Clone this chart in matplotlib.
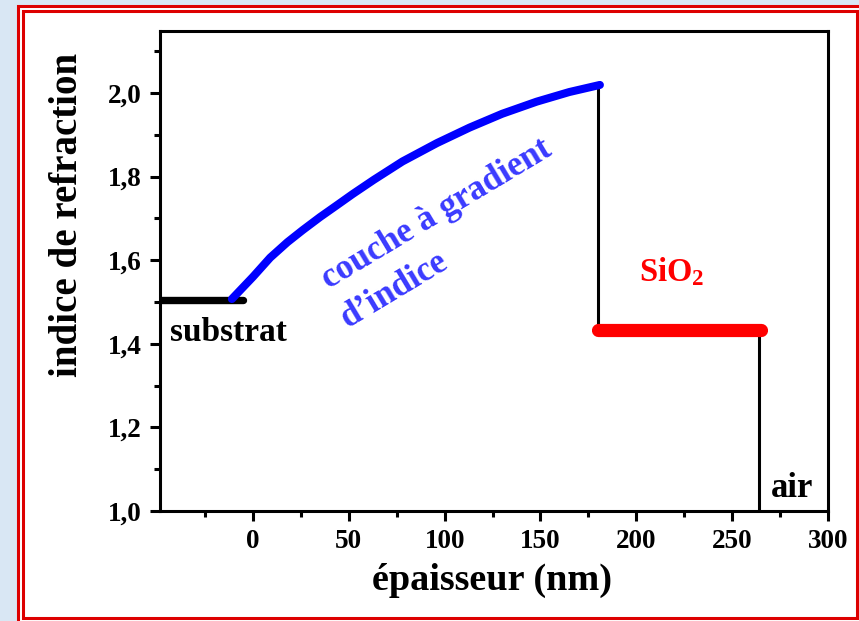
import matplotlib
matplotlib.use("Agg")
import matplotlib.pyplot as plt
from matplotlib.patches import Rectangle
from matplotlib.ticker import MultipleLocator, FuncFormatter

plt.rcParams['font.family'] = ['Liberation Serif', 'DejaVu Serif']
plt.rcParams['font.weight'] = 'bold'
plt.rcParams['mathtext.fontset'] = 'custom'
plt.rcParams['mathtext.rm'] = 'Liberation Serif:bold'
plt.rcParams['mathtext.bf'] = 'Liberation Serif:bold'

# ---- data ----
substrat_x = [-48.5, -5]
substrat_y = [1.505, 1.505]

gradient_x = [-11, 0, 9, 18, 26, 35, 44, 52, 63, 78, 96, 113, 130, 148, 165, 181]
gradient_y = [1.507, 1.56, 1.606, 1.643, 1.672, 1.703, 1.732, 1.758, 1.792, 1.836, 1.880,
              1.917, 1.950, 1.979, 2.002, 2.019]

step1_x = [180, 180]
step1_y = [2.015, 1.432]

sio2_x = [180, 265]
sio2_y = [1.433, 1.433]

step2_x = [264, 264]
step2_y = [1.426, 1.0]

xticks = [0, 50, 100, 150, 200, 250, 300]
yticks = [1.0, 1.2, 1.4, 1.6, 1.8, 2.0]

W, H = 859, 621
fig = plt.figure(figsize=(W / 100, H / 100), dpi=100)
fig.patch.set_facecolor('#d9e7f4')

def px_rect(x0, y0, x1, y1, **kw):
    return Rectangle((x0 / W, 1 - y1 / H), (x1 - x0) / W, (y1 - y0) / H,
                     transform=fig.transFigure, figure=fig, zorder=-10, **kw)

fig.patches.append(px_rect(18, 6, 880, 640, facecolor='white', edgecolor='#dd0000', linewidth=2.2))
fig.patches.append(px_rect(23, 11, 857, 618, facecolor='none', edgecolor='#dd0000', linewidth=2.2))

ax = fig.add_axes([160 / W, 1 - 511 / H, (828 - 160) / W, (511 - 31) / H])
ax.set_zorder(5)
ax.set_facecolor('white')

ax.plot(substrat_x, substrat_y, color='black', lw=5.3, solid_capstyle='round', zorder=3)
ax.plot(gradient_x, gradient_y, color='#0000ff', lw=5.8, solid_capstyle='round',
        solid_joinstyle='round', zorder=4)
ax.plot(step1_x, step1_y, color='black', lw=2.2, zorder=3)
ax.plot(sio2_x, sio2_y, color='#ff0000', lw=9.5, solid_capstyle='round', zorder=4)
ax.plot(step2_x, step2_y, color='black', lw=2.2, zorder=3)

ax.set_xlim(-48.5, 300)
ax.set_ylim(1.0, 2.148)

for s in ax.spines.values():
    s.set_linewidth(2.2)

ax.set_xticks(xticks)
ax.set_yticks(yticks)
ax.xaxis.set_minor_locator(MultipleLocator(25))
ax.yaxis.set_minor_locator(MultipleLocator(0.1))
ax.yaxis.set_major_formatter(FuncFormatter(lambda v, p: f"{v:.1f}".replace('.', ',')))
ax.xaxis.set_major_formatter(FuncFormatter(lambda v, p: f"{v:.0f}"))
ax.tick_params(which='major', direction='out', length=7, width=2.2, labelsize=19.5, pad=6)
ax.tick_params(which='minor', direction='out', length=4, width=2.2)
ax.tick_params(top=False, right=False, which='both')
for lab in ax.get_xticklabels() + ax.get_yticklabels():
    lab.set_fontweight('bold')

fig.text(68 / W, 1 - 215 / H, 'indice de refraction', rotation=90, fontsize=28,
         fontweight='bold', ha='center', va='center')
fig.text(492 / W, 1 - 580 / H, 'épaisseur (nm)', fontsize=27.5,
         fontweight='bold', ha='center', va='center')

ax.text(-43.3, 1.426, 'substrat', fontsize=24, fontweight='bold', ha='left', va='center')
ax.text(96, 1.71, 'couche à gradient', fontsize=25, fontweight='bold', color='#3a3aff',
        rotation=31, ha='center', va='center', rotation_mode='anchor')
ax.text(74, 1.528, 'd’indice', fontsize=25, fontweight='bold', color='#3a3aff',
        rotation=31, ha='center', va='center', rotation_mode='anchor')
ax.text(218.6, 1.572, r'$\mathbf{SiO_2}$', fontsize=23.5, color='#ff0000', ha='center', va='center')
ax.text(281, 1.055, 'air', fontsize=25, fontweight='bold', ha='center', va='center')

fig.savefig('out.png', dpi=100, facecolor=fig.get_facecolor())
